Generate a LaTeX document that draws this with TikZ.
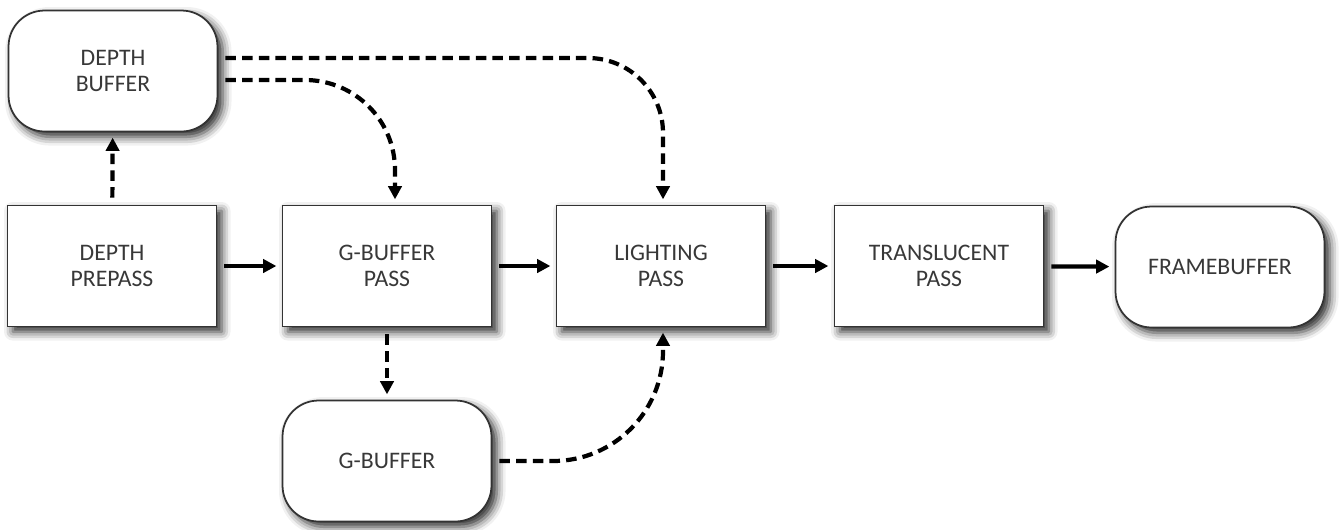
\documentclass[tikz,border=0pt]{standalone}
\usepackage{fontspec}
\setmainfont{Carlito}
\usetikzlibrary{positioning, arrows.meta, shadows.blur}

\begin{document}
\begin{tikzpicture}[
    x=0.02cm, y=-0.02cm,
    pass/.style={rectangle, draw=black!80, line width=1pt, fill=white, minimum width=4.18cm, minimum height=2.42cm, align=center, text=black!78, font=\fontsize{13.5}{14.8}\selectfont, blur shadow={shadow xshift=3pt, shadow yshift=-3pt, shadow blur radius=5pt, shadow opacity=85}},
    buffer/.style={pass, rounded corners=0.72cm},
    arrow/.style={-{Triangle[length=7.5pt, width=7.5pt]}, line width=2.4pt, shorten <=4pt, shorten >=3pt},
    dep/.style={arrow, dash pattern=on 6pt off 3.5pt}
]
\useasboundingbox (0,0) rectangle (1340,529);

% Passes
\node[pass] (prepass) at (112,266) {DEPTH\\PREPASS};
\node[pass] (gpass) at (387,266) {G-BUFFER\\PASS};
\node[pass] (light) at (661,266) {LIGHTING\\PASS};
\node[pass] (transl) at (939,266) {TRANSLUCENT\\PASS};

% Buffers
\node[buffer] (depth) at (113,71) {DEPTH\\BUFFER};
\node[buffer] (gbuf) at (387,461) {G-BUFFER};
\node[buffer] (fbuf) at (1220,267) {FRAMEBUFFER};

% Main chain
\draw[arrow] (prepass) -- (gpass);
\draw[arrow] (gpass) -- (light);
\draw[arrow] (light) -- (transl);
\draw[arrow] (transl) -- (fbuf);

% Buffer reads and writes
\draw[dep] (prepass) -- (depth);
\draw[dep] (gpass) -- (gbuf);
\draw[dep, rounded corners=1.5cm] ([yshift=0.26cm]depth.east) -| ([xshift=0.04cm]light.north);
\draw[dep, rounded corners=1.8cm] ([yshift=-0.18cm]depth.east) -| ([xshift=0.16cm]gpass.north);
\draw[dep, rounded corners=2.2cm] (gbuf.east) -| ([xshift=0.04cm]light.south);

\end{tikzpicture}
\end{document}
